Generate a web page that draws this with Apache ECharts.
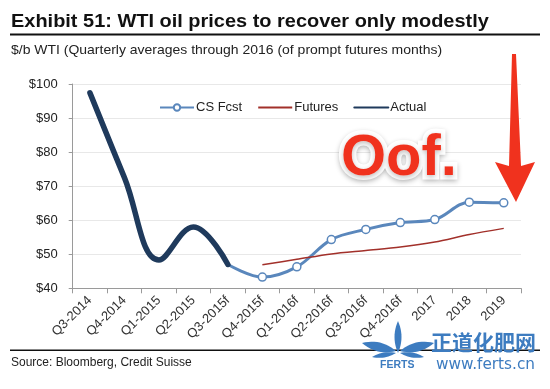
<!DOCTYPE html>
<html>
<head>
<meta charset="utf-8">
<script src="https://cdn.jsdelivr.net/npm/echarts@6/dist/echarts.min.js"></script>
<style>
html,body{margin:0;padding:0;background:#fff;}
#c{width:550px;height:389px;}
</style>
</head>
<body>
<div id="c"></div>
<script>
var categories = ['Q3-2014','Q4-2014','Q1-2015','Q2-2015','Q3-2015f','Q4-2015f','Q1-2016f','Q2-2016f','Q3-2016f','Q4-2016f','2017','2018','2019'];
var actual   = [97.4, 72.5, 48.3, 58.0, 47.0, null, null, null, null, null, null, null, null];
var csFcst   = [null, null, null, null, 47.0, 43.3, 46.3, 54.3, 57.3, 59.3, 60.2, 65.3, 65.1];
var futures  = [null, null, null, null, null, 46.9, 48.5, 50.1, 51.1, 52.1, 53.6, 55.8, 57.6];
var yTicks   = [40, 50, 60, 70, 80, 90, 100];

var FONT = '"Liberation Sans", Arial, Helvetica, sans-serif';
var chart = echarts.init(document.getElementById('c'), null, {renderer: 'canvas'});

var csData = csFcst.map(function (v, i) {
  if (i === 4) return {value: v, symbol: 'none'};
  return v;
});

function leaf(x1, y1, x2, y2, b) {
  var mx = (x1 + x2) / 2, my = (y1 + y2) / 2;
  var dx = x2 - x1, dy = y2 - y1, L = Math.sqrt(dx * dx + dy * dy);
  var nx = -dy / L, ny = dx / L;
  var c1 = [mx + nx * b, my + ny * b], c2 = [mx - nx * b, my - ny * b];
  var pts = [], t, i;
  for (i = 0; i <= 12; i++) {
    t = i / 12;
    pts.push([(1 - t) * (1 - t) * x1 + 2 * (1 - t) * t * c1[0] + t * t * x2,
              (1 - t) * (1 - t) * y1 + 2 * (1 - t) * t * c1[1] + t * t * y2]);
  }
  for (i = 11; i >= 1; i--) {
    t = i / 12;
    pts.push([(1 - t) * (1 - t) * x1 + 2 * (1 - t) * t * c2[0] + t * t * x2,
              (1 - t) * (1 - t) * y1 + 2 * (1 - t) * t * c2[1] + t * t * y2]);
  }
  return {type: 'polygon', z: 22, shape: {points: pts}, style: {fill: '#3d7cc0'}};
}

var option = {
  backgroundColor: '#ffffff',
  animation: false,
  textStyle: {fontFamily: FONT},
  grid: {left: 72.7, right: 29, top: 84, bottom: 100.7, containLabel: false},
  legend: {
    left: 159, top: 101, padding: 0,
    itemWidth: 34, itemHeight: 8, itemGap: 15,
    textStyle: {fontFamily: FONT, fontSize: 13, color: '#222', padding: [0, 0, 0, -3]},
    data: [
      {name: 'CS Fcst'},
      {name: 'Futures', itemStyle: {opacity: 0}},
      {name: 'Actual', itemStyle: {opacity: 0}}
    ]
  },
  xAxis: {
    type: 'category',
    data: categories,
    boundaryGap: true,
    axisLine: {lineStyle: {color: '#9a9a9a', width: 1}},
    axisTick: {show: true, length: 5, lineStyle: {color: '#9a9a9a'}},
    axisLabel: {rotate: 45, interval: 0, margin: 10, fontSize: 13, color: '#333', fontFamily: FONT}
  },
  yAxis: {
    type: 'value',
    min: yTicks[0], max: yTicks[yTicks.length - 1], interval: 10,
    axisLine: {show: true, lineStyle: {color: '#9a9a9a', width: 1}},
    axisTick: {show: true, length: 4, inside: false, lineStyle: {color: '#9a9a9a'}},
    axisLabel: {margin: 15, fontSize: 13, color: '#222', fontFamily: FONT,
      formatter: function (v) { return '$' + v; }},
    splitLine: {lineStyle: {color: '#e8e8e8', width: 1}}
  },
  series: [
    {
      name: 'CS Fcst', type: 'line', data: csData, smooth: 0.35,
      connectNulls: false,
      symbol: 'circle', symbolSize: 8, showSymbol: true,
      lineStyle: {color: '#5a87bc', width: 3},
      itemStyle: {color: '#ffffff', borderColor: '#5a87bc', borderWidth: 1.5},
      z: 2
    },
    {
      name: 'Futures', type: 'line', data: futures, smooth: 0.3,
      showSymbol: false, symbol: 'none',
      lineStyle: {color: '#a2302a', width: 1.5},
      itemStyle: {color: '#a2302a'},
      z: 3
    },
    {
      name: 'Actual', type: 'line', data: actual, smooth: 0.4,
      showSymbol: false, symbol: 'none',
      lineStyle: {color: '#1f3a5c', width: 5.5, cap: 'round'},
      itemStyle: {color: '#1f3a5c'},
      z: 4
    }
  ],
  graphic: [
    {type: 'text', x: 11, y: 13.5, scaleX: 1.14, style: {text: 'Exhibit 51: WTI oil prices to recover only modestly', font: 'bold 17.5px ' + FONT, fill: '#111', verticalAlign: 'top'}},
    {type: 'rect', shape: {x: 10, y: 33.5, width: 530, height: 2}, style: {fill: '#111'}},
    {type: 'text', x: 11, y: 44, scaleX: 1.075, style: {text: '$/b WTI (Quarterly averages through 2016 (of prompt futures months)', font: '13px ' + FONT, fill: '#222', verticalAlign: 'top'}},
    {type: 'rect', shape: {x: 10, y: 349.5, width: 530, height: 1.5}, style: {fill: '#111'}},
    {type: 'text', x: 11, y: 357, style: {text: 'Source: Bloomberg, Credit Suisse', font: '12px ' + FONT, fill: '#222', verticalAlign: 'top'}},
    // Oof. annotation
    {type: 'text', x: 341, y: 188, z: 20, style: {text: 'Oof.', font: 'bold 58px ' + FONT, fill: '#ffffff', stroke: '#ffffff', lineWidth: 9, lineJoin: 'round', verticalAlign: 'bottom', align: 'left', textShadowBlur: 5, textShadowColor: 'rgba(0,0,0,0.25)', textShadowOffsetY: 1.5}},
    {type: 'text', x: 341, y: 188, z: 21, style: {text: 'Oof.', font: 'bold 58px ' + FONT, fill: '#f0321e', verticalAlign: 'bottom', align: 'left'}},
    // arrow
    {type: 'polygon', z: 21, shape: {points: [[512, 54], [516, 54], [521, 166], [535, 162], [516, 202], [495, 162], [509, 166]]}, style: {fill: '#f0321e'}},
    // watermark
    leaf(398, 321, 398, 353, 7),
    leaf(362, 343, 396, 351, 9),
    leaf(434, 343, 400, 351, -9),
    leaf(372, 357, 396, 353, -5),
    leaf(424, 357, 400, 353, 5),
    {type: 'text', z: 22, x: 431, y: 332, style: {text: '正道化肥网', font: 'bold 21px "Noto Sans CJK SC", sans-serif', fill: '#3d7cc0', verticalAlign: 'top'}},
    {type: 'text', z: 22, x: 380, y: 360, style: {text: 'FERTS', font: 'bold 10.5px ' + FONT, fill: '#3d7cc0', verticalAlign: 'top'}},
    {type: 'text', z: 22, x: 436, y: 358, style: {text: 'www.ferts.cn', font: '15.3px "DejaVu Sans", sans-serif', fill: '#3d7cc0', verticalAlign: 'top'}}
  ]
};
chart.setOption(option);
</script>
</body>
</html>
